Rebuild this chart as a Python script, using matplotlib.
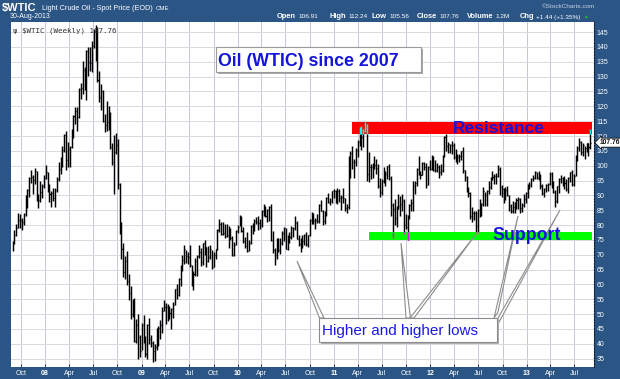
import matplotlib
matplotlib.use('Agg')
import matplotlib.pyplot as plt
from matplotlib.patches import Rectangle, Polygon
import numpy as np
import pandas as pd

W, H = 620, 379
BG = '#2b5584'
BLUE = '#1414dc'
plt.rcParams['font.family'] = ['Liberation Sans', 'DejaVu Sans']

# weekly bars, Friday 31-Aug-2007 .. Friday 30-Aug-2013
closes = [
    # 2007
    74.0, 76.7, 79.1, 81.6, 81.7, 81.2, 83.7, 88.6, 91.9, 95.9, 96.3, 95.1, 98.2, 88.7, 88.3, 91.3, 93.3, 96.0,
    # 2008
    97.9, 92.7, 90.6, 90.7, 89.0, 91.8, 95.5, 98.8, 101.8, 105.2, 110.2, 101.8, 105.6, 106.2, 110.1, 116.7, 118.5,
    116.3, 126.0, 126.3, 132.2, 127.4, 138.5, 134.9, 134.6, 140.2, 145.3, 145.1, 128.9, 123.3, 125.1, 115.2, 113.8,
    114.6, 115.5, 106.2, 101.2, 104.6, 106.9, 93.9, 77.7, 71.9, 64.2, 67.8, 61.0, 57.0, 49.9, 54.4, 40.8, 46.3, 42.4, 37.7,
    # 2009
    46.3, 40.8, 36.5, 46.5, 41.7, 40.2, 37.5, 38.9, 44.8, 45.5, 46.3, 51.1, 52.4, 52.5, 52.2, 50.3, 51.6, 53.2, 58.6,
    56.3, 61.7, 66.3, 68.4, 72.0, 69.6, 69.2, 66.7, 59.9, 63.6, 68.0, 69.5, 70.9, 67.5, 73.9, 72.7, 68.0, 69.3, 72.0,
    66.0, 70.0, 71.8, 78.5, 80.5, 77.0, 77.4, 76.4, 76.7, 76.1, 75.5, 69.9, 73.4, 78.1, 79.4,
    # 2010
    82.8, 78.0, 74.5, 72.9, 71.2, 74.1, 79.8, 79.7, 81.5, 81.2, 80.7, 80.0, 84.9, 84.9, 83.2, 85.1, 86.2, 75.1, 71.6,
    70.0, 74.0, 71.5, 73.8, 77.2, 78.9, 72.1, 76.1, 76.0, 79.0, 79.0, 80.7, 75.4, 73.5, 75.2, 74.6, 76.5, 73.7, 76.5,
    81.6, 82.7, 81.3, 81.7, 81.4, 86.9, 84.9, 81.5, 83.8, 89.2, 87.8, 88.0, 91.5, 91.4,
    # 2011
    88.0, 91.5, 89.1, 89.3, 89.0, 85.6, 86.2, 97.9, 104.4, 101.2, 101.1, 105.4, 107.9, 112.8, 109.7, 112.3, 113.9,
    97.2, 99.7, 99.5, 100.6, 100.2, 99.3, 93.0, 91.2, 94.9, 96.2, 97.2, 99.9, 95.7, 86.9, 85.4, 82.3, 85.4, 86.5,
    87.2, 88.0, 79.9, 79.2, 83.0, 86.8, 87.4, 93.3, 94.3, 99.0, 97.4, 96.8, 101.0, 99.4, 93.5, 99.7, 98.8,
    # 2012
    101.6, 98.7, 98.5, 99.6, 97.8, 98.7, 103.2, 109.8, 106.7, 107.4, 107.1, 106.9, 103.0, 103.3, 102.8, 103.1, 104.9,
    98.5, 96.1, 91.5, 90.9, 83.2, 84.1, 84.0, 79.8, 85.0, 84.5, 87.1, 91.4, 90.1, 91.4, 92.9, 96.0, 96.2, 96.5, 96.4,
    99.0, 92.9, 92.2, 89.9, 91.9, 90.1, 86.3, 84.9, 86.1, 86.7, 88.3, 88.9, 85.9, 86.7, 88.7, 90.8,
    # 2013
    93.1, 93.6, 95.6, 95.9, 97.8, 95.7, 95.9, 93.1, 90.7, 92.0, 93.5, 93.7, 97.2, 92.7, 91.3, 88.0, 93.0, 95.6, 96.0,
    96.0, 94.2, 92.0, 96.0, 97.9, 93.7, 96.6, 103.2, 106.0, 108.1, 104.7, 106.9, 106.0, 107.5, 106.4, 107.76,
]
highs = [
    74.5, 78.3, 80.4, 84.1, 83.9, 82.4, 84.1, 90.1, 92.2, 96.2, 98.6, 96.9, 99.3, 98.2, 90.5, 94.8, 93.7, 96.8,
    100.1, 97.9, 94.0, 91.5, 92.5, 92.4, 96.2, 101.3, 103.0, 106.6, 110.7, 111.8, 107.9, 106.6, 112.2, 117.0, 119.9,
    119.8, 126.3, 127.8, 135.1, 133.2, 139.1, 139.9, 139.9, 142.0, 145.9, 147.3, 146.7, 131.8, 127.5, 125.5, 117.3,
    121.8, 120.0, 118.0, 107.8, 110.5, 111.0, 109.0, 94.1, 81.1, 74.0, 69.7, 71.3, 63.5, 59.6, 55.0, 55.6, 48.4, 50.0, 43.0,
    47.0, 49.6, 42.5, 46.7, 48.6, 43.0, 41.0, 39.8, 45.2, 46.0, 48.1, 52.4, 54.7, 53.8, 53.4, 52.8, 52.2, 54.1, 58.6,
    60.1, 62.3, 66.6, 69.9, 73.2, 71.6, 71.0, 73.4, 66.4, 64.4, 69.0, 69.9, 73.4, 72.2, 74.0, 75.0, 72.5, 72.8, 73.2,
    71.7, 70.8, 72.1, 78.6, 82.0, 80.9, 81.2, 80.5, 80.5, 79.6, 79.0, 76.4, 74.3, 78.3, 80.0,
    83.5, 83.0, 79.3, 75.9, 77.6, 75.0, 80.0, 80.8, 82.0, 82.6, 83.2, 82.0, 85.0, 87.1, 86.4, 85.3, 86.5, 87.2, 78.0,
    72.4, 75.7, 75.6, 75.7, 78.0, 79.4, 79.0, 76.5, 77.6, 79.6, 79.5, 82.9, 81.5, 76.6, 75.5, 76.7, 77.0, 77.8, 76.7,
    81.9, 84.4, 84.1, 82.3, 83.6, 87.2, 88.6, 85.0, 84.7, 89.5, 90.8, 89.0, 91.6, 92.1,
    91.8, 92.6, 92.0, 90.2, 92.6, 89.0, 87.0, 103.4, 104.9, 106.7, 102.2, 106.0, 108.5, 113.0, 113.3, 112.4, 114.8,
    114.0, 104.6, 100.6, 101.0, 103.4, 102.4, 100.5, 96.0, 95.4, 99.4, 98.1, 100.0, 100.6, 96.4, 87.3, 88.8, 86.5, 90.5,
    89.8, 90.5, 88.8, 83.9, 83.4, 87.0, 88.9, 94.7, 94.7, 99.1, 103.4, 98.3, 101.2, 101.2, 101.0, 99.9, 101.8,
    103.7, 103.4, 101.8, 100.8, 100.3, 100.5, 103.7, 110.0, 110.6, 108.0, 107.3, 108.3, 107.7, 105.5, 104.0, 104.1, 105.0,
    106.4, 98.7, 96.5, 92.9, 91.3, 86.0, 84.8, 84.6, 85.5, 88.9, 87.3, 92.9, 91.0, 91.9, 94.7, 96.2, 98.3, 97.1, 97.7,
    100.4, 99.6, 93.4, 92.5, 92.8, 93.0, 90.0, 87.0, 88.1, 87.8, 89.2, 89.4, 89.2, 87.4, 90.5, 91.2,
    93.8, 94.5, 96.0, 96.7, 98.2, 97.9, 98.2, 97.1, 93.7, 92.5, 93.7, 94.2, 97.8, 97.8, 94.8, 91.9, 93.3, 96.0, 96.7,
    96.1, 96.6, 95.5, 96.2, 97.9, 98.7, 97.1, 103.7, 106.8, 109.3, 108.3, 107.5, 106.6, 107.8, 107.6, 112.24,
]
lows = [
    71.2, 73.6, 76.4, 78.9, 79.1, 78.4, 80.0, 83.1, 85.6, 89.4, 94.3, 90.5, 93.9, 88.0, 85.9, 87.9, 89.0, 92.6,
    95.6, 91.3, 87.8, 86.1, 88.0, 86.1, 91.3, 95.0, 97.1, 99.6, 104.6, 98.7, 99.6, 99.6, 106.1, 109.4, 114.1,
    111.8, 115.9, 122.5, 124.1, 125.5, 122.0, 130.2, 131.8, 131.5, 139.6, 135.1, 128.3, 121.5, 118.8, 114.8, 111.3,
    111.6, 112.0, 105.5, 100.1, 90.5, 103.9, 92.0, 77.0, 68.6, 62.4, 62.0, 59.8, 54.7, 48.3, 49.0, 40.5, 40.3, 35.0, 35.5,
    37.8, 40.2, 35.5, 35.0, 40.0, 39.0, 34.0, 34.2, 37.8, 39.4, 41.5, 43.5, 51.1, 46.8, 47.6, 48.4, 45.0, 48.7, 53.0,
    55.2, 56.2, 59.6, 64.6, 66.9, 67.3, 67.0, 66.0, 59.5, 58.3, 63.0, 62.7, 69.0, 66.1, 66.6, 70.0, 66.0, 67.5, 68.5,
    65.1, 65.9, 68.6, 71.6, 77.6, 76.8, 76.5, 75.6, 76.1, 72.4, 75.0, 69.5, 69.6, 73.3, 77.2,
    79.6, 77.7, 74.1, 72.4, 70.8, 71.2, 73.5, 76.9, 78.1, 80.2, 78.3, 78.8, 79.5, 83.0, 82.8, 80.9, 81.3, 74.6, 70.6,
    66.5, 68.5, 70.8, 70.3, 73.4, 74.5, 71.9, 71.7, 74.0, 75.3, 75.9, 78.5, 75.3, 73.1, 70.8, 72.2, 73.2, 73.1, 72.6,
    76.2, 80.5, 80.2, 78.8, 80.6, 80.8, 84.6, 80.1, 80.2, 83.1, 87.3, 86.6, 87.5, 89.0,
    87.6, 87.1, 87.7, 85.1, 87.3, 84.6, 84.0, 85.5, 95.8, 99.0, 95.7, 100.0, 102.9, 106.8, 105.2, 106.2, 111.4,
    95.0, 94.6, 95.6, 96.0, 98.8, 97.1, 92.5, 89.6, 90.2, 94.2, 93.1, 95.6, 95.1, 82.9, 75.7, 79.9, 79.2, 85.5,
    83.0, 84.8, 77.1, 78.6, 75.0, 82.0, 84.7, 84.9, 90.5, 93.3, 97.0, 95.5, 96.8, 98.4, 92.5, 93.4, 98.6,
    98.5, 98.2, 97.9, 97.9, 96.0, 96.9, 97.9, 102.8, 104.9, 104.3, 104.3, 104.0, 102.3, 101.4, 100.7, 101.1, 102.0,
    97.5, 95.0, 91.3, 89.3, 82.2, 81.2, 81.7, 77.3, 77.3, 82.6, 83.1, 86.5, 86.3, 86.5, 90.5, 92.2, 95.1, 93.8, 93.9,
    96.2, 90.1, 89.3, 87.6, 88.3, 89.7, 84.9, 84.1, 84.1, 84.1, 85.4, 85.4, 84.1, 84.4, 86.2, 87.5,
    89.0, 92.0, 92.9, 94.7, 95.6, 95.6, 95.1, 92.0, 90.1, 89.3, 91.1, 91.6, 93.4, 92.6, 90.9, 86.1, 87.4, 90.8, 94.3,
    93.1, 92.3, 91.6, 90.9, 94.4, 93.1, 93.0, 96.4, 101.6, 104.8, 103.6, 103.1, 102.2, 104.7, 103.1, 105.56,
]
dates = pd.date_range('2007-08-31', periods=len(closes), freq='W-FRI')

resistance = (110.7, 114.8)
support = (75.0, 77.8)
res_start, sup_start, band_end = pd.Timestamp('2011-03-12'), pd.Timestamp('2011-05-14'), pd.Timestamp('2013-09-04')

header_labels = ['Open', 'High', 'Low', 'Close', 'Volume', 'Chg']
header_values = ['106.91', '112.24', '105.56', '107.76', '1.2M', '+1.44 (+1.35%)']
header_x = [277, 330, 372, 417, 467, 520]


def fx(x):
    return x / W


def fy(y):
    return 1 - y / H


fig = plt.figure(figsize=(6.2, 3.79), dpi=100, facecolor=BG)
ax = fig.add_axes([fx(11), fy(367), 583 / W, 345 / H])
ax.set_facecolor('white')
renderer = fig.canvas.get_renderer()

# bars
ax.vlines(dates, lows, highs, colors='black', lw=1.05, zorder=3)
ax.hlines(closes, dates, dates + pd.Timedelta(days=4), colors='black', lw=0.9, zorder=3)

# resistance / support bands, bars inside them show in the inverse colour
ax.fill_between([res_start, band_end], resistance[0], resistance[1], color='#ff0000', lw=0, zorder=4)
ax.fill_between([sup_start, band_end], support[0], support[1], color='#00ff00', lw=0, zorder=4)
for d, lo, hi in zip(dates, lows, highs):
    for (blo, bhi), start, col in [(resistance, res_start, '#00ffff'), (support, sup_start, '#ff00ff')]:
        if start <= d <= band_end:
            a, b = max(lo, blo), min(hi, bhi)
            if a < b:
                ax.vlines(d, a, b, colors=col, lw=1.05, zorder=5)

ax.set_ylim(32.2, 148.4)
ax.set_xlim(pd.Timestamp('2007-08-25'), pd.Timestamp('2013-09-13'))

# axes, ticks and grid
quarters = pd.date_range('2007-10-01', '2013-07-01', freq='QS')
ax.set_xticks(quarters)
ax.set_xticklabels([q.strftime('%y') if q.month == 1 else q.strftime('%b') for q in quarters])
for lab, q in zip(ax.get_xticklabels(), quarters):
    if q.month == 1:
        lab.set_fontweight('bold')
ax.set_yticks(np.arange(35, 146, 5))
ax.yaxis.tick_right()
ax.tick_params(axis='x', colors='white', labelsize=5, direction='in', length=2, pad=2.5)
ax.tick_params(axis='x', color='#404060')
ax.tick_params(axis='y', colors='white', labelsize=5, length=0, pad=2)
ax.grid(axis='y', color='#d8d8e2', lw=0.7, zorder=0)
ax.grid(axis='x', color='#c4c6d4', lw=0.7, zorder=0)
for s in ['left', 'top', 'bottom']:
    ax.spines[s].set_visible(False)
ax.spines['right'].set_linestyle(':')
ax.spines['right'].set_color('#0c1c34')
ax.spines['right'].set_linewidth(0.8)

# header
fig.text(fx(2), fy(10.5), '$WTIC', color='white', fontsize=8, fontweight='bold')
t = fig.text(fx(42), fy(10), 'Light Crude Oil - Spot Price (EOD)', color='white', fontsize=5.2)
fig.text(fx(42) + (t.get_window_extent(renderer).width + 3) / W, fy(10), 'CME', color='white', fontsize=4.4)
fig.text(fx(10), fy(18.5), '30-Aug-2013', color='white', fontsize=5)
fig.text(fx(595), fy(8.5), '\u00a9StockCharts.com', color='#c8d4e4', fontsize=4.6, ha='right')

for lab, val, x in zip(header_labels, header_values, header_x):
    t = fig.text(fx(x), fy(18.5), lab, color='white', fontsize=5.4, fontweight='bold')
    x2 = x + t.get_window_extent(renderer).width + 2
    t = fig.text(fx(x2), fy(18.5), val, color='white', fontsize=4.6)
end = x2 + t.get_window_extent(renderer).width + 2
fig.text(fx(end), fy(18.5), '\u25b2', color='#22cc22', fontsize=3.5)

ax.text(0.004, 0.985, '\u03c8 $WTIC (Weekly) 107.76', transform=ax.transAxes, fontsize=5.4,
        family='DejaVu Sans Mono', color='#333333', va='top', ha='left', zorder=6)

# last value tag
ax.annotate('107.76', xy=(1.0, 107.76), xycoords=('axes fraction', 'data'), xytext=(4, 0),
            textcoords='offset points', fontsize=4.8, fontweight='bold', color='#111111', va='center',
            annotation_clip=False,
            bbox=dict(boxstyle='larrow,pad=0.15', fc='white', ec='#111111', lw=0.6))

# title box
fig.add_artist(Rectangle((fx(218), fy(74)), 205 / W, 25 / H, transform=fig.transFigure, fc='#a8a8a8', ec='none'))
fig.add_artist(Rectangle((fx(216), fy(72)), 205 / W, 25 / H, transform=fig.transFigure, fc='white',
                         ec='#9a9a9a', lw=0.8))
fig.text(fx(218), fy(66), 'Oil (WTIC) since 2007', color=BLUE, fontsize=12.8, fontweight='bold')

fig.text(fx(452.5), fy(133), 'Resistance', color=BLUE, fontsize=12.5, fontweight='bold', zorder=6)
fig.text(fx(492.7), fy(240.5), 'Support', color=BLUE, fontsize=12.8, fontweight='bold', zorder=6)

# callout with pointers
pointers = [((319.5, 318), (324, 318), (297, 261)),
            ((406, 318), (410.5, 318), (401, 243)),
            ((410, 318), (414, 318), (476.5, 233.5)),
            ((494, 318), (498, 312), (518, 216)),
            ((498, 318), (498, 324), (560, 210))]
for p in pointers:
    pts = [(fx(a), fy(b)) for a, b in p]
    fig.add_artist(Polygon(pts, closed=True, transform=fig.transFigure, fc='white', ec='#8c8c8c', lw=0.8))
fig.add_artist(Rectangle((fx(321), fy(344)), 178 / W, 24 / H, transform=fig.transFigure, fc='#b0b0b0', ec='none'))
fig.add_artist(Rectangle((fx(319), fy(342)), 178 / W, 24 / H, transform=fig.transFigure, fc='white',
                         ec='#8c8c8c', lw=0.8))
fig.text(fx(321.5), fy(335), 'Higher and higher lows', color='#1a1ae6', fontsize=11)

fig.savefig('out.png', dpi=100, facecolor=BG)
